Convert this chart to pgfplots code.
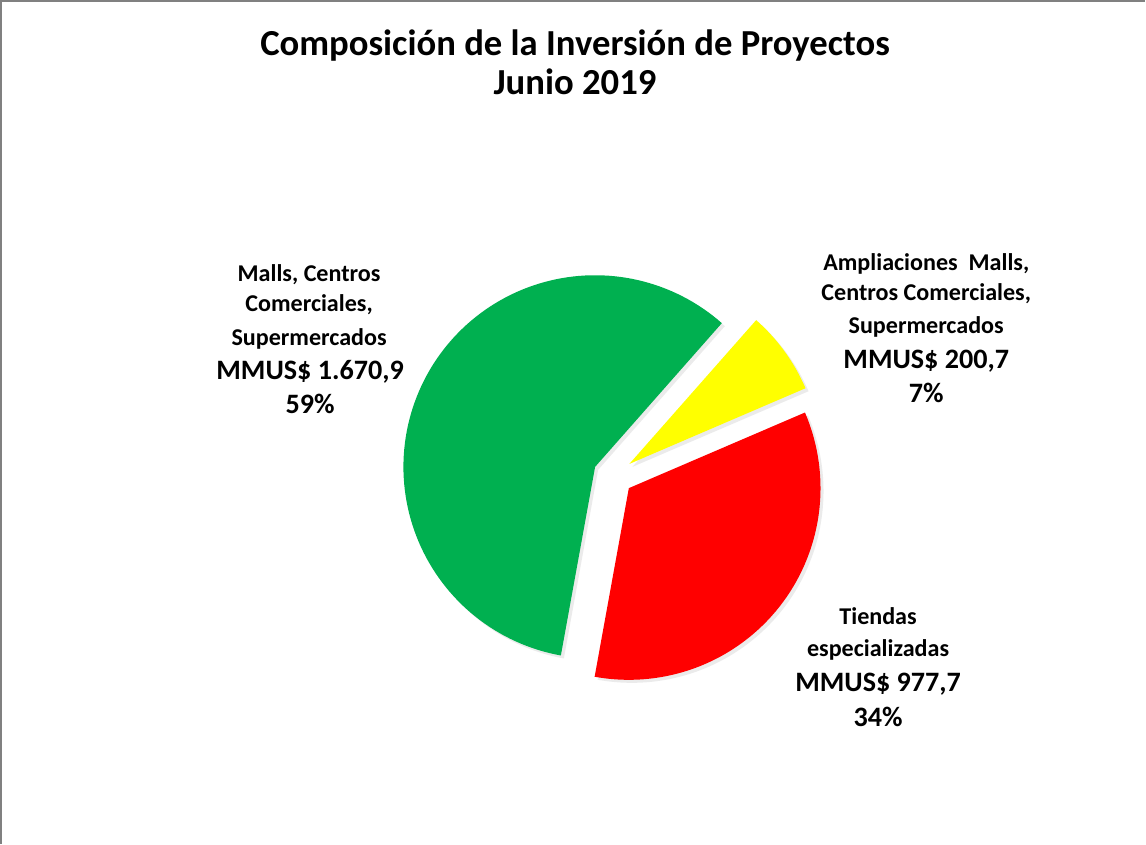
\documentclass[border=0pt]{standalone}
\usepackage{fontspec}
\setmainfont{Carlito}
\usepackage{pgfplots}
\pgfplotsset{compat=1.18}

\definecolor{cMalls}{HTML}{00B050}
\definecolor{cTiendas}{HTML}{FF0000}
\definecolor{cAmpl}{HTML}{FFFF00}
\definecolor{Frame}{HTML}{808080}

% data (MMUS$)
\def\vMalls{1670.9}
\def\vTiendas{977.7}
\def\vAmpl{200.7}

% pie geometry in pixel units (y up)
\def\cx{616}
\def\cy{367}
\def\rad{191}
\def\expl{20}
\def\aStart{48.6}
\pgfmathsetmacro\vTot{\vMalls+\vTiendas+\vAmpl}
\pgfmathsetmacro\aA{\aStart+360*(\vMalls/\vTot)}
\pgfmathsetmacro\aB{\aA+360*(\vTiendas/\vTot)}
\pgfmathsetmacro\aC{\aStart+360}
\pgfmathsetmacro\oxG{\cx+\expl*cos((\aStart+\aA)/2)}
\pgfmathsetmacro\oyG{\cy+\expl*sin((\aStart+\aA)/2)}
\pgfmathsetmacro\oxR{\cx+\expl*cos((\aA+\aB)/2)}
\pgfmathsetmacro\oyR{\cy+\expl*sin((\aA+\aB)/2)}
\pgfmathsetmacro\oxY{\cx+\expl*cos((\aB+\aC)/2)}
\pgfmathsetmacro\oyY{\cy+\expl*sin((\aB+\aC)/2)}

\newcommand\slice[5]{% start, end, centre x, centre y, style
  \addplot[#5, draw=none, domain=#1:#2, samples=120, variable=\t]
    ({#3+\rad*cos(\t)},{#4+\rad*sin(\t)}) -- (axis cs:#3,#4) -- cycle;
}
\newcommand\lbl[4]{%
  \node[anchor=base, inner sep=0pt, font=\bfseries\fontsize{#1}{#1}\selectfont]
    at (axis cs:#2,{844-#3}) {#4};
}

\begin{document}
\begin{tikzpicture}
\begin{axis}[
  scale only axis,
  width=859.5pt, height=633pt,
  xmin=0, xmax=1146, ymin=0, ymax=844,
  hide axis, clip=false
]
% soft shadows
\slice{\aStart}{\aA}{\oxG+3}{\oyG-3}{fill=black, opacity=0.08}
\slice{\aA}{\aB}{\oxR+3}{\oyR-3}{fill=black, opacity=0.08}
\slice{\aB}{\aC}{\oxY+3}{\oyY-3}{fill=black, opacity=0.08}
% slices
\slice{\aStart}{\aA}{\oxG}{\oyG}{fill=cMalls}
\slice{\aA}{\aB}{\oxR}{\oyR}{fill=cTiendas}
\slice{\aB}{\aC}{\oxY}{\oyY}{fill=cAmpl}

% frame
\draw[Frame, line width=1.5pt] (axis cs:6,0) -- (axis cs:6,840) -- (axis cs:1146,840);

% title
\lbl{27.4}{578}{58}{Composición de la Inversión de Proyectos}
\lbl{27.4}{578}{97}{Junio 2019}

% labels
\lbl{18}{313}{284}{Malls, Centros}
\lbl{18}{313}{313}{Comerciales,}
\lbl{18}{313}{347}{Supermercados}
\lbl{21}{314}{381}{MMUS\$ 1.670,9}
\lbl{21}{314}{415}{59\%}

\lbl{18}{928}{273}{Ampliaciones\ \ Malls,}
\lbl{18}{928}{302}{Centros Comerciales,}
\lbl{18}{928}{335}{Supermercados}
\lbl{21}{928}{370}{MMUS\$ 200,7}
\lbl{21}{928}{404}{7\%}

\lbl{18}{880}{625}{Tiendas}
\lbl{18}{880}{657}{especializadas}
\lbl{21}{880}{692}{MMUS\$ 977,7}
\lbl{21}{880}{727}{34\%}
\end{axis}
\end{tikzpicture}
\end{document}
